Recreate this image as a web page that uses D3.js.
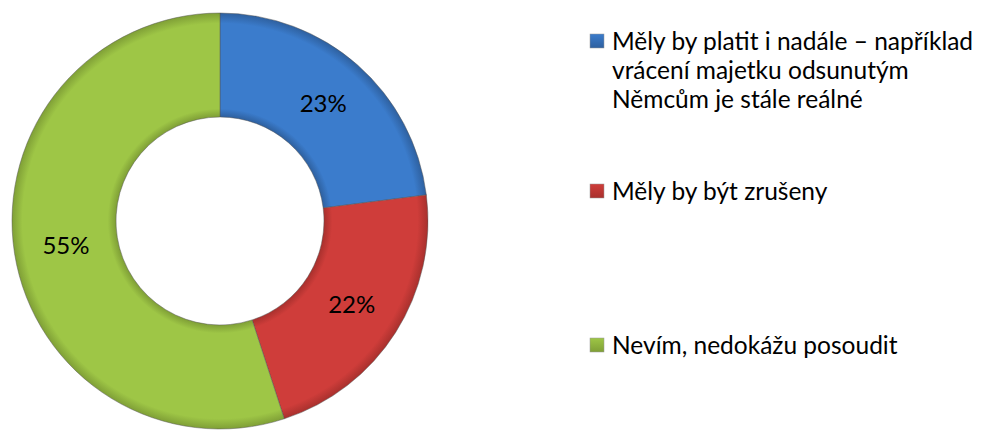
<!DOCTYPE html>
<html>
<head>
<meta charset="utf-8">
<script src="https://cdn.jsdelivr.net/npm/d3@7"></script>
<style>
  html, body { margin: 0; padding: 0; background: #fff; }
  svg text { font-family: Lato, "Open Sans", sans-serif; fill: #000; }
</style>
</head>
<body>
<svg id="chart" width="983" height="430"></svg>
<script>
// data
const categories = [
  "Měly by platit i nadále – například vrácení majetku odsunutým Němcům je stále reálné",
  "Měly by být zrušeny",
  "Nevím, nedokážu posoudit"
];
const values = [23, 22, 55];
const legendLines = [
  ["Měly by platit i nadále – například", "vrácení majetku odsunutým", "Němcům je stále reálné"],
  ["Měly by být zrušeny"],
  ["Nevím, nedokážu posoudit"]
];
const colors = ["#3b7ccc", "#cf3d3a", "#9ec646"];
const darkColors = ["#2e609f", "#a8302d", "#7f9f36"];

const cx = 220, cy = 221;
const outerR = 208, innerR = 104;

const svg = d3.select("#chart");
const defs = svg.append("defs");

// bevel-ish shading for each slice (gradient space is the group's, centred at 0,0)
colors.forEach((c, i) => {
  const g = defs.append("radialGradient")
      .attr("id", "grad" + i)
      .attr("gradientUnits", "userSpaceOnUse")
      .attr("cx", 0).attr("cy", 0).attr("r", outerR);
  g.append("stop").attr("offset", innerR / outerR).attr("stop-color", darkColors[i]);
  g.append("stop").attr("offset", innerR / outerR + 0.04).attr("stop-color", c);
  g.append("stop").attr("offset", 0.95).attr("stop-color", c);
  g.append("stop").attr("offset", 1).attr("stop-color", darkColors[i]);
});

const pie = d3.pie().sort(null).value(d => d);
const arc = d3.arc().innerRadius(innerR).outerRadius(outerR);
const labelArc = d3.arc().innerRadius((innerR + outerR) / 2).outerRadius((innerR + outerR) / 2);

const g = svg.append("g").attr("transform", `translate(${cx},${cy})`);

const arcs = pie(values);

g.selectAll("path.slice")
  .data(arcs)
  .join("path")
    .attr("class", "slice")
    .attr("d", arc)
    .attr("fill", (d, i) => `url(#grad${i})`)
    .attr("stroke", "#555")
    .attr("stroke-opacity", 0.6)
    .attr("stroke-width", 0.8);

const total = d3.sum(values);
g.selectAll("text.lbl")
  .data(arcs)
  .join("text")
    .attr("class", "lbl")
    .attr("transform", d => `translate(${labelArc.centroid(d)})`)
    .attr("text-anchor", "middle")
    .attr("dy", "0.35em")
    .style("font-size", "24px")
    .text(d => Math.round(d.data / total * 100) + "%");

// legend
const legendY = [41, 191, 345];
const lineH = 29;
const legend = svg.append("g").attr("transform", "translate(590,0)");

legendLines.forEach((lines, i) => {
  const lg = defs.append("linearGradient").attr("id", "sq" + i)
    .attr("x1", 0).attr("y1", 0).attr("x2", 0).attr("y2", 1);
  lg.append("stop").attr("offset", 0).attr("stop-color", colors[i]);
  lg.append("stop").attr("offset", 1).attr("stop-color", darkColors[i]);

  const item = legend.append("g").attr("transform", `translate(0,${legendY[i]})`);
  item.append("rect")
    .attr("x", 0).attr("y", -7)
    .attr("width", 14).attr("height", 14)
    .attr("fill", `url(#sq${i})`)
    .attr("stroke", "#999")
    .attr("stroke-width", 0.5);

  item.selectAll("text")
    .data(lines)
    .join("text")
      .attr("x", 22)
      .attr("y", (d, j) => 9 + j * lineH)
      .style("font-size", "24.5px")
      .text(d => d);
});
</script>
</body>
</html>
